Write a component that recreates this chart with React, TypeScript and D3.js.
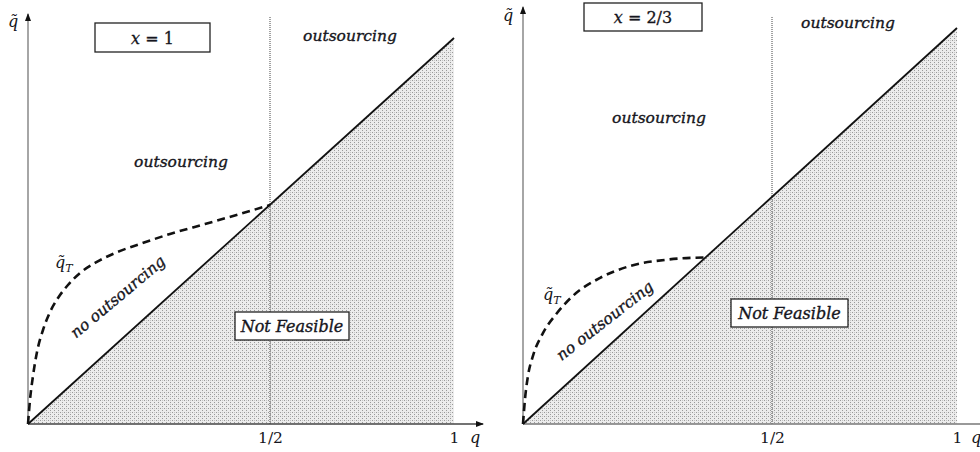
import React, { useEffect, useRef } from 'react'
import * as d3 from 'd3'

// q axis ticks (the 1/2 mark is not at the pixel midpoint in the original sketch)
const qTicks = [0.5, 1]
const qTickLabels = ['1/2', '1']
const panelTitles = ['1', '2/3']

// dashed q̃_T boundary
const curveQ1 = [0, 0.0041, 0.0103, 0.0186, 0.031, 0.0455, 0.062, 0.0826, 0.1074, 0.1384, 0.1798, 0.2314, 0.2934, 0.3657, 0.438, 0.5]
const curveQt1 = [0, 0.0548, 0.1096, 0.1644, 0.2146, 0.2557, 0.2877, 0.3174, 0.3447, 0.3676, 0.3904, 0.411, 0.4338, 0.4566, 0.4795, 0.5]
const curveQ2 = [0, 0.004, 0.01, 0.02, 0.04, 0.068, 0.1, 0.155, 0.215, 0.289, 0.367]
const curveQt2 = [0, 0.055, 0.106, 0.15, 0.2, 0.244, 0.282, 0.322, 0.348, 0.362, 0.367]

// 45 degree line and the infeasible triangle under it
const diagQ = [0, 1]
const feasibleQ = [0, 1, 1]
const feasibleQt = [0, 0, 1]

const FONT = '"DejaVu Serif", "Liberation Serif", serif'
const INK = '#151520'

const layouts = [
  {
    xr: [28, 270, 454], yr: [424, 205, 38], yTop: 14, xEnd: 483,
    axisX: '#444', axisY: '#888',
    qLbl: [13, 27], box: [95, 23, 115, 29],
    outTop: [350, 41], outMid: [181, 167], qT: [55, 268],
    noOut: [118, 297, -40], nf: [235, 312, 114, 28], qLabel: [475, 443]
  },
  {
    xr: [523, 772, 957], yr: [424, 197, 28], yTop: 7, xEnd: 990,
    axisX: '#777', axisY: '#888',
    qLbl: [508, 21], box: [584, 3, 118, 28],
    outTop: [848, 28], outMid: [659, 123], qT: [543, 300],
    noOut: [605, 321, -38], nf: [731, 299, 117, 28], qLabel: [976, 443]
  }
]

const curves = [
  curveQ1.map((q, i) => [q, curveQt1[i]]),
  curveQ2.map((q, i) => [q, curveQt2[i]])
]

function Panel ({ idx }) {
  const L = layouts[idx]
  const axisRef = useRef(null)
  const x = d3.scaleLinear().domain([0, 0.5, 1]).range(L.xr)
  const y = d3.scaleLinear().domain([0, 0.5, 1]).range(L.yr)

  useEffect(() => {
    const g = d3.select(axisRef.current)
    g.selectAll('*').remove()
    g.call(
      d3.axisBottom(x)
        .tickValues(qTicks)
        .tickFormat((d, i) => qTickLabels[i])
        .tickSize(0)
        .tickPadding(8)
    )
    g.select('.domain').remove()
    g.selectAll('text')
      .attr('font-family', FONT)
      .attr('font-size', 15.5)
      .attr('fill', INK)
  }, [])

  const line = d3.line().x(d => x(d[0])).y(d => y(d[1]))
  const dashed = d3.line().x(d => x(d[0])).y(d => y(d[1])).curve(d3.curveMonotoneX)
  const tri = feasibleQ.map((q, i) => [q, feasibleQt[i]])
  const ox = x(0)
  const oy = y(0)
  const label = { fontSize: 15.5, fontStyle: 'italic', stroke: INK, strokeWidth: 0.35 }

  return (
    <g>
      <path d={line(tri) + 'Z'} fill='url(#dots)' />
      <line x1={x(0.5)} x2={x(0.5)} y1={17} y2={oy} stroke='#444' strokeWidth={1} strokeDasharray='1,1' />
      <line x1={ox} x2={ox} y1={oy} y2={L.yTop} stroke={L.axisY} strokeWidth={1.5} markerEnd='url(#arrow)' />
      <line x1={ox} x2={L.xEnd} y1={oy} y2={oy} stroke={L.axisX} strokeWidth={1.5} markerEnd='url(#arrow)' />
      <path d={line(diagQ.map(q => [q, q]))} fill='none' stroke='#111' strokeWidth={1.8} />
      <path d={dashed(curves[idx])} fill='none' stroke='#111' strokeWidth={2.6} strokeDasharray='8,5' />
      <g ref={axisRef} transform={`translate(0,${oy})`} />

      <g fontFamily={FONT} fill={INK}>
        <text x={L.qLbl[0]} y={L.qLbl[1]} fontSize={16} fontStyle='italic' textAnchor='middle'>q̃</text>
        <text x={L.qLabel[0]} y={L.qLabel[1]} fontSize={16} fontStyle='italic' textAnchor='middle'>q</text>

        <rect x={L.box[0]} y={L.box[1]} width={L.box[2]} height={L.box[3]} fill='#fff' stroke='#222' strokeWidth={1.3} />
        <text x={L.box[0] + L.box[2] / 2} y={L.box[1] + L.box[3] / 2 + 6} fontSize={16} textAnchor='middle' stroke={INK} strokeWidth={0.3}>
          <tspan fontStyle='italic'>x</tspan> = {panelTitles[idx]}
        </text>

        <text x={L.outTop[0]} y={L.outTop[1]} {...label} textAnchor='middle'>outsourcing</text>
        <text x={L.outMid[0]} y={L.outMid[1]} {...label} textAnchor='middle'>outsourcing</text>

        <text x={L.qT[0]} y={L.qT[1]} fontSize={16} fontStyle='italic'>
          q̃<tspan fontSize={11} dy={4}>T</tspan>
        </text>

        <text
          transform={`translate(${L.noOut[0]},${L.noOut[1]}) rotate(${L.noOut[2]})`}
          {...label} textAnchor='middle' dy={5}
        >no outsourcing
        </text>

        <rect x={L.nf[0]} y={L.nf[1]} width={L.nf[2]} height={L.nf[3]} fill='#fff' stroke='#222' strokeWidth={1.3} />
        <text x={L.nf[0] + L.nf[2] / 2} y={L.nf[1] + L.nf[3] / 2 + 6} {...label} fontSize={16} textAnchor='middle'>Not Feasible</text>
      </g>
    </g>
  )
}

export default function App () {
  return (
    <svg
      width={980}
      height={452}
      viewBox='0 0 980 452'
      style={{ position: 'absolute', left: 0, top: 0, display: 'block', background: '#fff' }}
    >
      <defs>
        <pattern id='dots' width={4} height={4} patternUnits='userSpaceOnUse'>
          <rect width={4} height={4} fill='#ececec' />
          <rect x={0} y={0} width={1} height={1} fill='#999' />
          <rect x={2} y={2} width={1} height={1} fill='#999' />
          <rect x={2} y={0} width={1} height={1} fill='#c4c4c4' />
        </pattern>
        <marker id='arrow' viewBox='0 0 8 6' refX={7} refY={3} markerWidth={8} markerHeight={6} markerUnits='userSpaceOnUse' orient='auto'>
          <path d='M0,0L8,3L0,6Z' fill='#111' />
        </marker>
      </defs>
      <Panel idx={0} />
      <Panel idx={1} />
    </svg>
  )
}
